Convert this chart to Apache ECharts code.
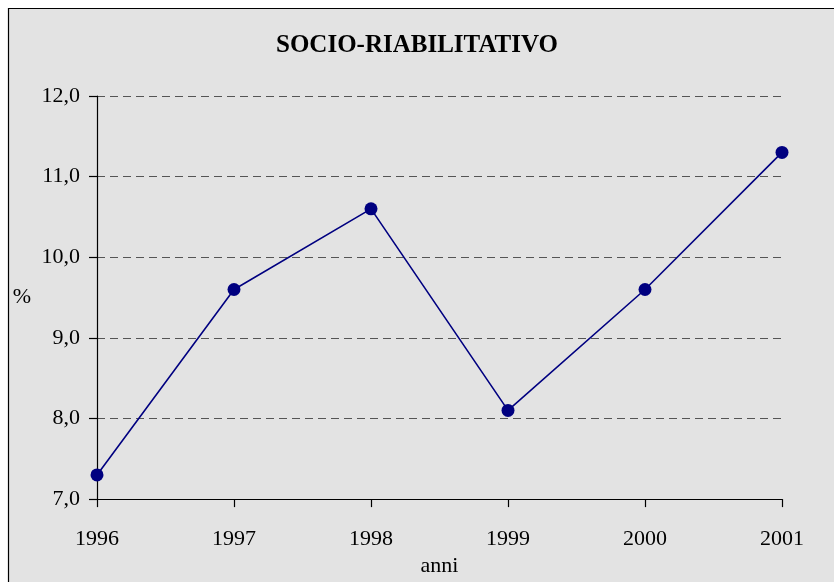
<!DOCTYPE html>
<html>
<head>
<meta charset="utf-8">
<script src="https://cdn.jsdelivr.net/npm/echarts@6/dist/echarts.min.js"></script>
<style>
  html, body { margin: 0; padding: 0; background: #fff; }
  #chart { width: 834px; height: 582px; }
</style>
</head>
<body>
<div id="chart"></div>
<script>
// dati
var anni = ['1996', '1997', '1998', '1999', '2000', '2001']
var valori = [7.3, 9.6, 10.6, 8.1, 9.6, 11.3]
var yMin = 7
var yMax = 12
var yStep = 1

var font = '"Liberation Serif", "Times New Roman", serif'
var chart = echarts.init(document.getElementById('chart'))

chart.setOption({
  animation: false,
  backgroundColor: '#fff',
  textStyle: { fontFamily: font },
  graphic: [
    {
      type: 'rect',
      z: -10,
      shape: { x: 8.5, y: 8.5, width: 840, height: 590 },
      style: { fill: '#e3e3e3', stroke: '#000', lineWidth: 1.2 }
    }
  ],
  title: {
    text: 'SOCIO-RIABILITATIVO',
    left: 'center',
    top: 28,
    textStyle: { fontFamily: font, fontSize: 25, fontWeight: 'bold', color: '#000' }
  },
  grid: { left: 97, right: 52, top: 96, bottom: 77 },
  xAxis: {
    type: 'category',
    data: anni,
    boundaryGap: false,
    name: 'anni',
    nameLocation: 'middle',
    nameGap: 49,
    nameTextStyle: { fontFamily: font, fontSize: 22, color: '#000' },
    axisLine: { lineStyle: { color: '#000', width: 1.2 } },
    axisTick: { show: true, length: 8, lineStyle: { color: '#000', width: 1.2 } },
    axisLabel: { margin: 29, fontFamily: font, fontSize: 22, color: '#000' },
    splitLine: { show: false }
  },
  yAxis: {
    type: 'value',
    min: yMin,
    max: yMax,
    interval: yStep,
    name: '%',
    nameLocation: 'middle',
    nameRotate: 0,
    nameGap: 66,
    nameTextStyle: { fontFamily: font, fontSize: 22, color: '#000' },
    axisLine: { show: true, lineStyle: { color: '#000', width: 1.2 } },
    axisTick: { show: true, length: 8, lineStyle: { color: '#000', width: 1.2 } },
    axisLabel: {
      margin: 17,
      fontFamily: font,
      fontSize: 22,
      color: '#000',
      formatter: function (v) { return v.toFixed(1).replace('.', ',') }
    },
    splitLine: { show: true, lineStyle: { color: '#555', type: [8, 5], width: 1 } }
  },
  series: [
    {
      type: 'line',
      data: valori,
      symbol: 'circle',
      symbolSize: 13,
      lineStyle: { color: '#000080', width: 1.6 },
      itemStyle: { color: '#000080' }
    }
  ]
})
</script>
</body>
</html>
